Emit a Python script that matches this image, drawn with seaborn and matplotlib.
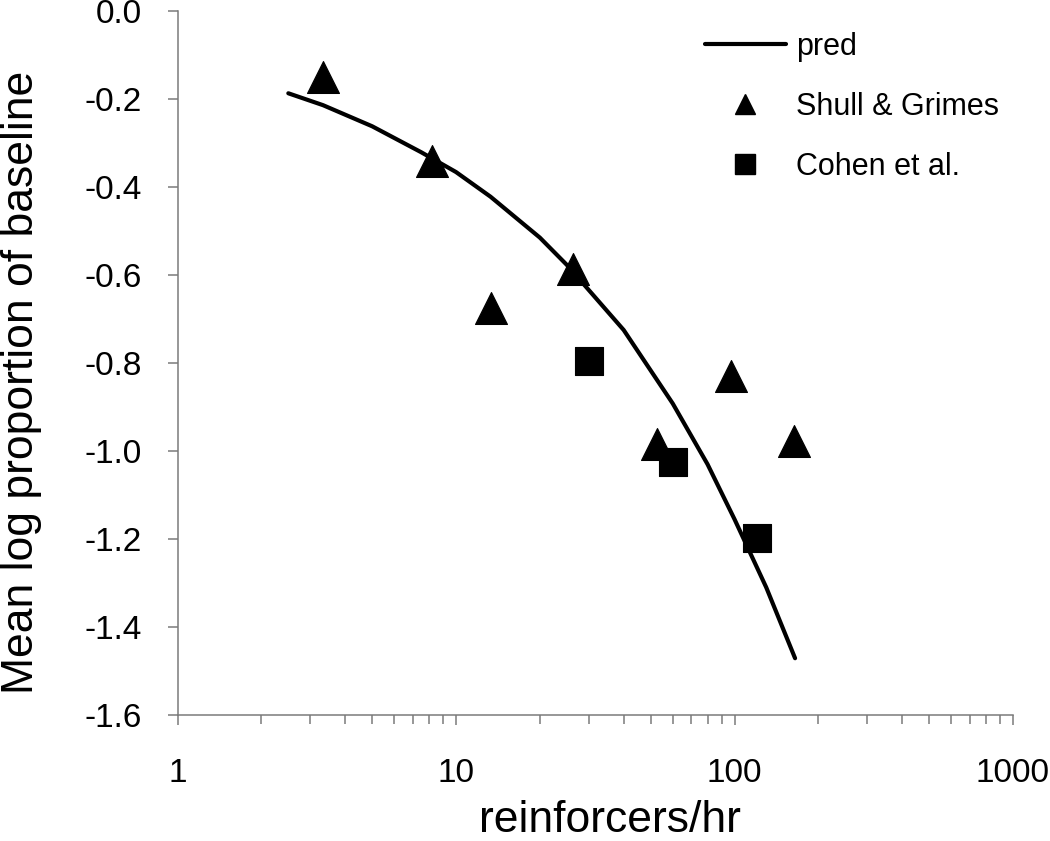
import matplotlib
matplotlib.use("Agg")
import matplotlib.pyplot as plt
from matplotlib.lines import Line2D
from matplotlib.ticker import LogLocator, NullFormatter, FixedLocator, FixedFormatter
import seaborn as sns
import pandas as pd

# ---- data ----
pred_x = [2.5, 3.33, 5.0, 7.5, 10, 13.3, 20, 25, 40, 60, 80, 100, 130, 165]
pred_y = [-0.187, -0.214, -0.262, -0.321, -0.366, -0.422, -0.515, -0.577,
          -0.725, -0.892, -1.03, -1.155, -1.31, -1.471]

shull_x = [3.33, 8.2, 13.4, 26.4, 52.7, 97.0, 164]
shull_y = [-0.149, -0.342, -0.675, -0.587, -0.985, -0.83, -0.977]

cohen_x = [30.0, 60.2, 120.2]
cohen_y = [-0.795, -1.026, -1.197]

x_ticks = [1, 10, 100, 1000]
x_tick_labels = ["1", "10", "100", "1000"]
y_ticks = [0.0, -0.2, -0.4, -0.6, -0.8, -1.0, -1.2, -1.4, -1.6]
y_tick_labels = ["0.0", "-0.2", "-0.4", "-0.6", "-0.8", "-1.0", "-1.2", "-1.4", "-1.6"]

series_names = ["pred", "Shull & Grimes", "Cohen et al."]
x_label = "reinforcers/hr"
y_label = "Mean log proportion of baseline"

# ---- style ----
sns.set_style("white")
plt.rcParams["font.family"] = ["Liberation Sans", "DejaVu Sans"]
plt.rcParams["axes.unicode_minus"] = False
plt.rcParams["text.color"] = "black"
plt.rcParams["axes.labelcolor"] = "black"
plt.rcParams["xtick.labelcolor"] = "black"
plt.rcParams["ytick.labelcolor"] = "black"

fig = plt.figure(figsize=(10.5, 8.41), dpi=100)
ax = fig.add_axes([177.5 / 1050, 1 - 715 / 841, (1013 - 177.5) / 1050, (715 - 11) / 841])

pred_df = pd.DataFrame({"x": pred_x, "y": pred_y})
shull_df = pd.DataFrame({"x": shull_x, "y": shull_y})
cohen_df = pd.DataFrame({"x": cohen_x, "y": cohen_y})

sns.lineplot(data=pred_df, x="x", y="y", ax=ax, color="black", linewidth=3,
             sort=False, legend=False)
sns.scatterplot(data=shull_df, x="x", y="y", ax=ax, marker="^", s=23 ** 2,
                color="black", edgecolor="black", linewidth=0.8, legend=False, zorder=3)
sns.scatterplot(data=cohen_df, x="x", y="y", ax=ax, marker="s", s=20 ** 2,
                color="black", edgecolor="black", linewidth=0.8, legend=False, zorder=3)

ax.set_xscale("log")
ax.set_xlim(1, 1000)
ax.set_ylim(-1.6, 0.0)

ax.xaxis.set_major_locator(FixedLocator(x_ticks))
ax.xaxis.set_major_formatter(FixedFormatter(x_tick_labels))
ax.xaxis.set_minor_locator(LogLocator(base=10, subs=[2, 3, 4, 5, 6, 7, 8, 9]))
ax.xaxis.set_minor_formatter(NullFormatter())
ax.yaxis.set_major_locator(FixedLocator(y_ticks))
ax.yaxis.set_major_formatter(FixedFormatter(y_tick_labels))

spine_col = "#7a7a7a"
for side in ["top", "right"]:
    ax.spines[side].set_visible(False)
for side in ["left", "bottom"]:
    ax.spines[side].set_color(spine_col)
    ax.spines[side].set_linewidth(1.1)

ax.tick_params(axis="x", which="major", direction="out", length=7, width=1.1,
               color=spine_col, labelcolor="black", labelsize=24, pad=24, bottom=True)
ax.tick_params(axis="x", which="minor", direction="out", length=6.5, width=1.1,
               color=spine_col, bottom=True)
ax.tick_params(axis="y", which="major", direction="out", length=7, width=1.1,
               color=spine_col, labelcolor="black", labelsize=24, pad=18.5, left=True)

ax.set_xlabel(x_label, fontsize=32, color="black")
ax.set_ylabel(y_label, fontsize=32, color="black")
ax.xaxis.set_label_coords((610 - 177.5) / 835.5, (715 - 800) / 704)
ax.yaxis.set_label_coords((42 - 177.5) / 835.5, (715 - 382) / 704)

handles = [
    Line2D([], [], color="black", linewidth=3),
    Line2D([], [], color="black", marker="^", linestyle="none", markersize=14.5),
    Line2D([], [], color="black", marker="s", linestyle="none", markersize=14),
]
leg = ax.legend(handles, series_names, loc="upper left", frameon=False, fontsize=22,
                bbox_to_anchor=(705 / 1050, 1 - 32 / 841), bbox_transform=fig.transFigure,
                borderpad=0, borderaxespad=0, handlelength=2.65, handletextpad=0.33,
                labelspacing=0.98)
for t in leg.get_texts():
    t.set_color("black")

fig.savefig("out.png", dpi=100)
